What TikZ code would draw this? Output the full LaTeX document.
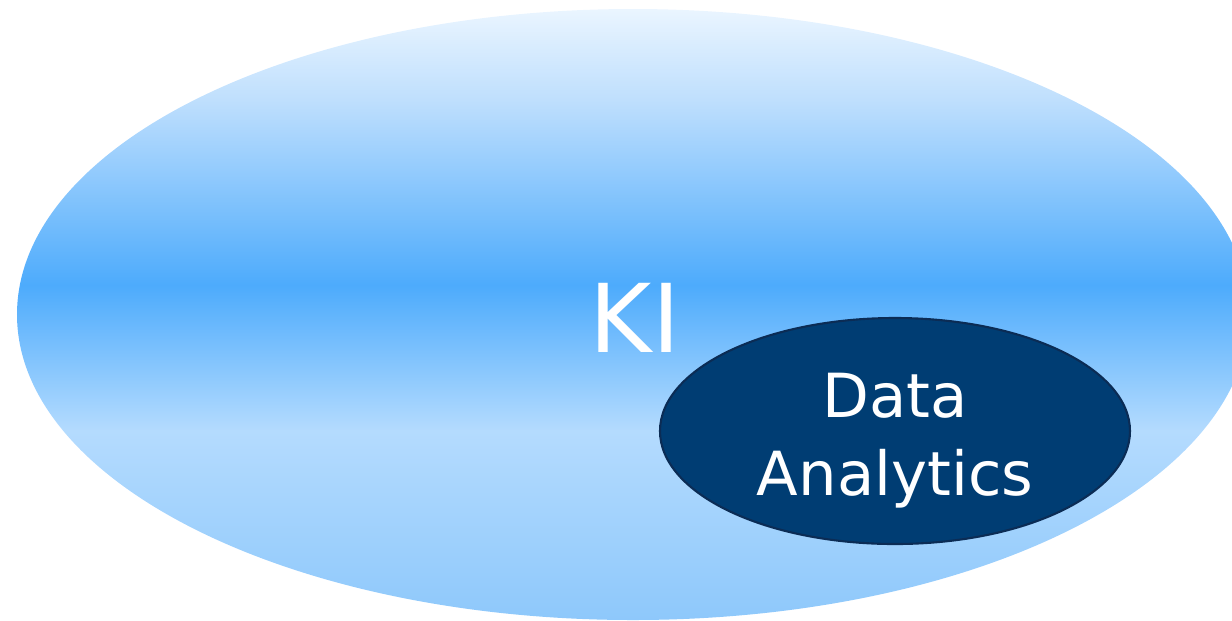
\documentclass[tikz,border=0pt]{standalone}
\usepackage{fontspec}
\setmainfont{DejaVu Sans}
\definecolor{kitop}{HTML}{EAF5FF}
\definecolor{kiupper}{HTML}{BFDFFD}
\definecolor{kimid}{HTML}{4DABFC}
\definecolor{kilight}{HTML}{B4DBFE}
\definecolor{kibottom}{HTML}{8EC8FB}
\definecolor{dafill}{HTML}{003D73}
\definecolor{daline}{HTML}{0B2C55}
\pgfdeclareverticalshading{kiglow}{100bp}{color(0bp)=(kibottom); color(25bp)=(kibottom); color(40.5bp)=(kilight); color(52.4bp)=(kimid); color(67.6bp)=(kiupper); color(75bp)=(kitop); color(100bp)=(kitop)}
\tikzset{
  bigtext/.style={text=white, font=\fontsize{27}{32}\selectfont},
  smalltext/.style={text=white, align=center, font=\fontsize{17.3}{22.2}\selectfont}
}
\begin{document}
\begin{tikzpicture}[x=0.01cm,y=-0.01cm]
  \useasboundingbox (0,0) rectangle (1232,620);
  \clip (0,0) rectangle (1232,620);

  % KI area
  \path[shading=kiglow] (633,314.5) ellipse [x radius=616, y radius=305.5];
  \node[bigtext, anchor=base] (ki) at (635,352) {KI};

  % Data Analytics inside
  \draw[fill=dafill, draw=daline, line width=0.6pt] (895,431) ellipse [x radius=235, y radius=113];
  \node[smalltext] (data) at (895,441) {Data\\Analytics};
\end{tikzpicture}
\end{document}
